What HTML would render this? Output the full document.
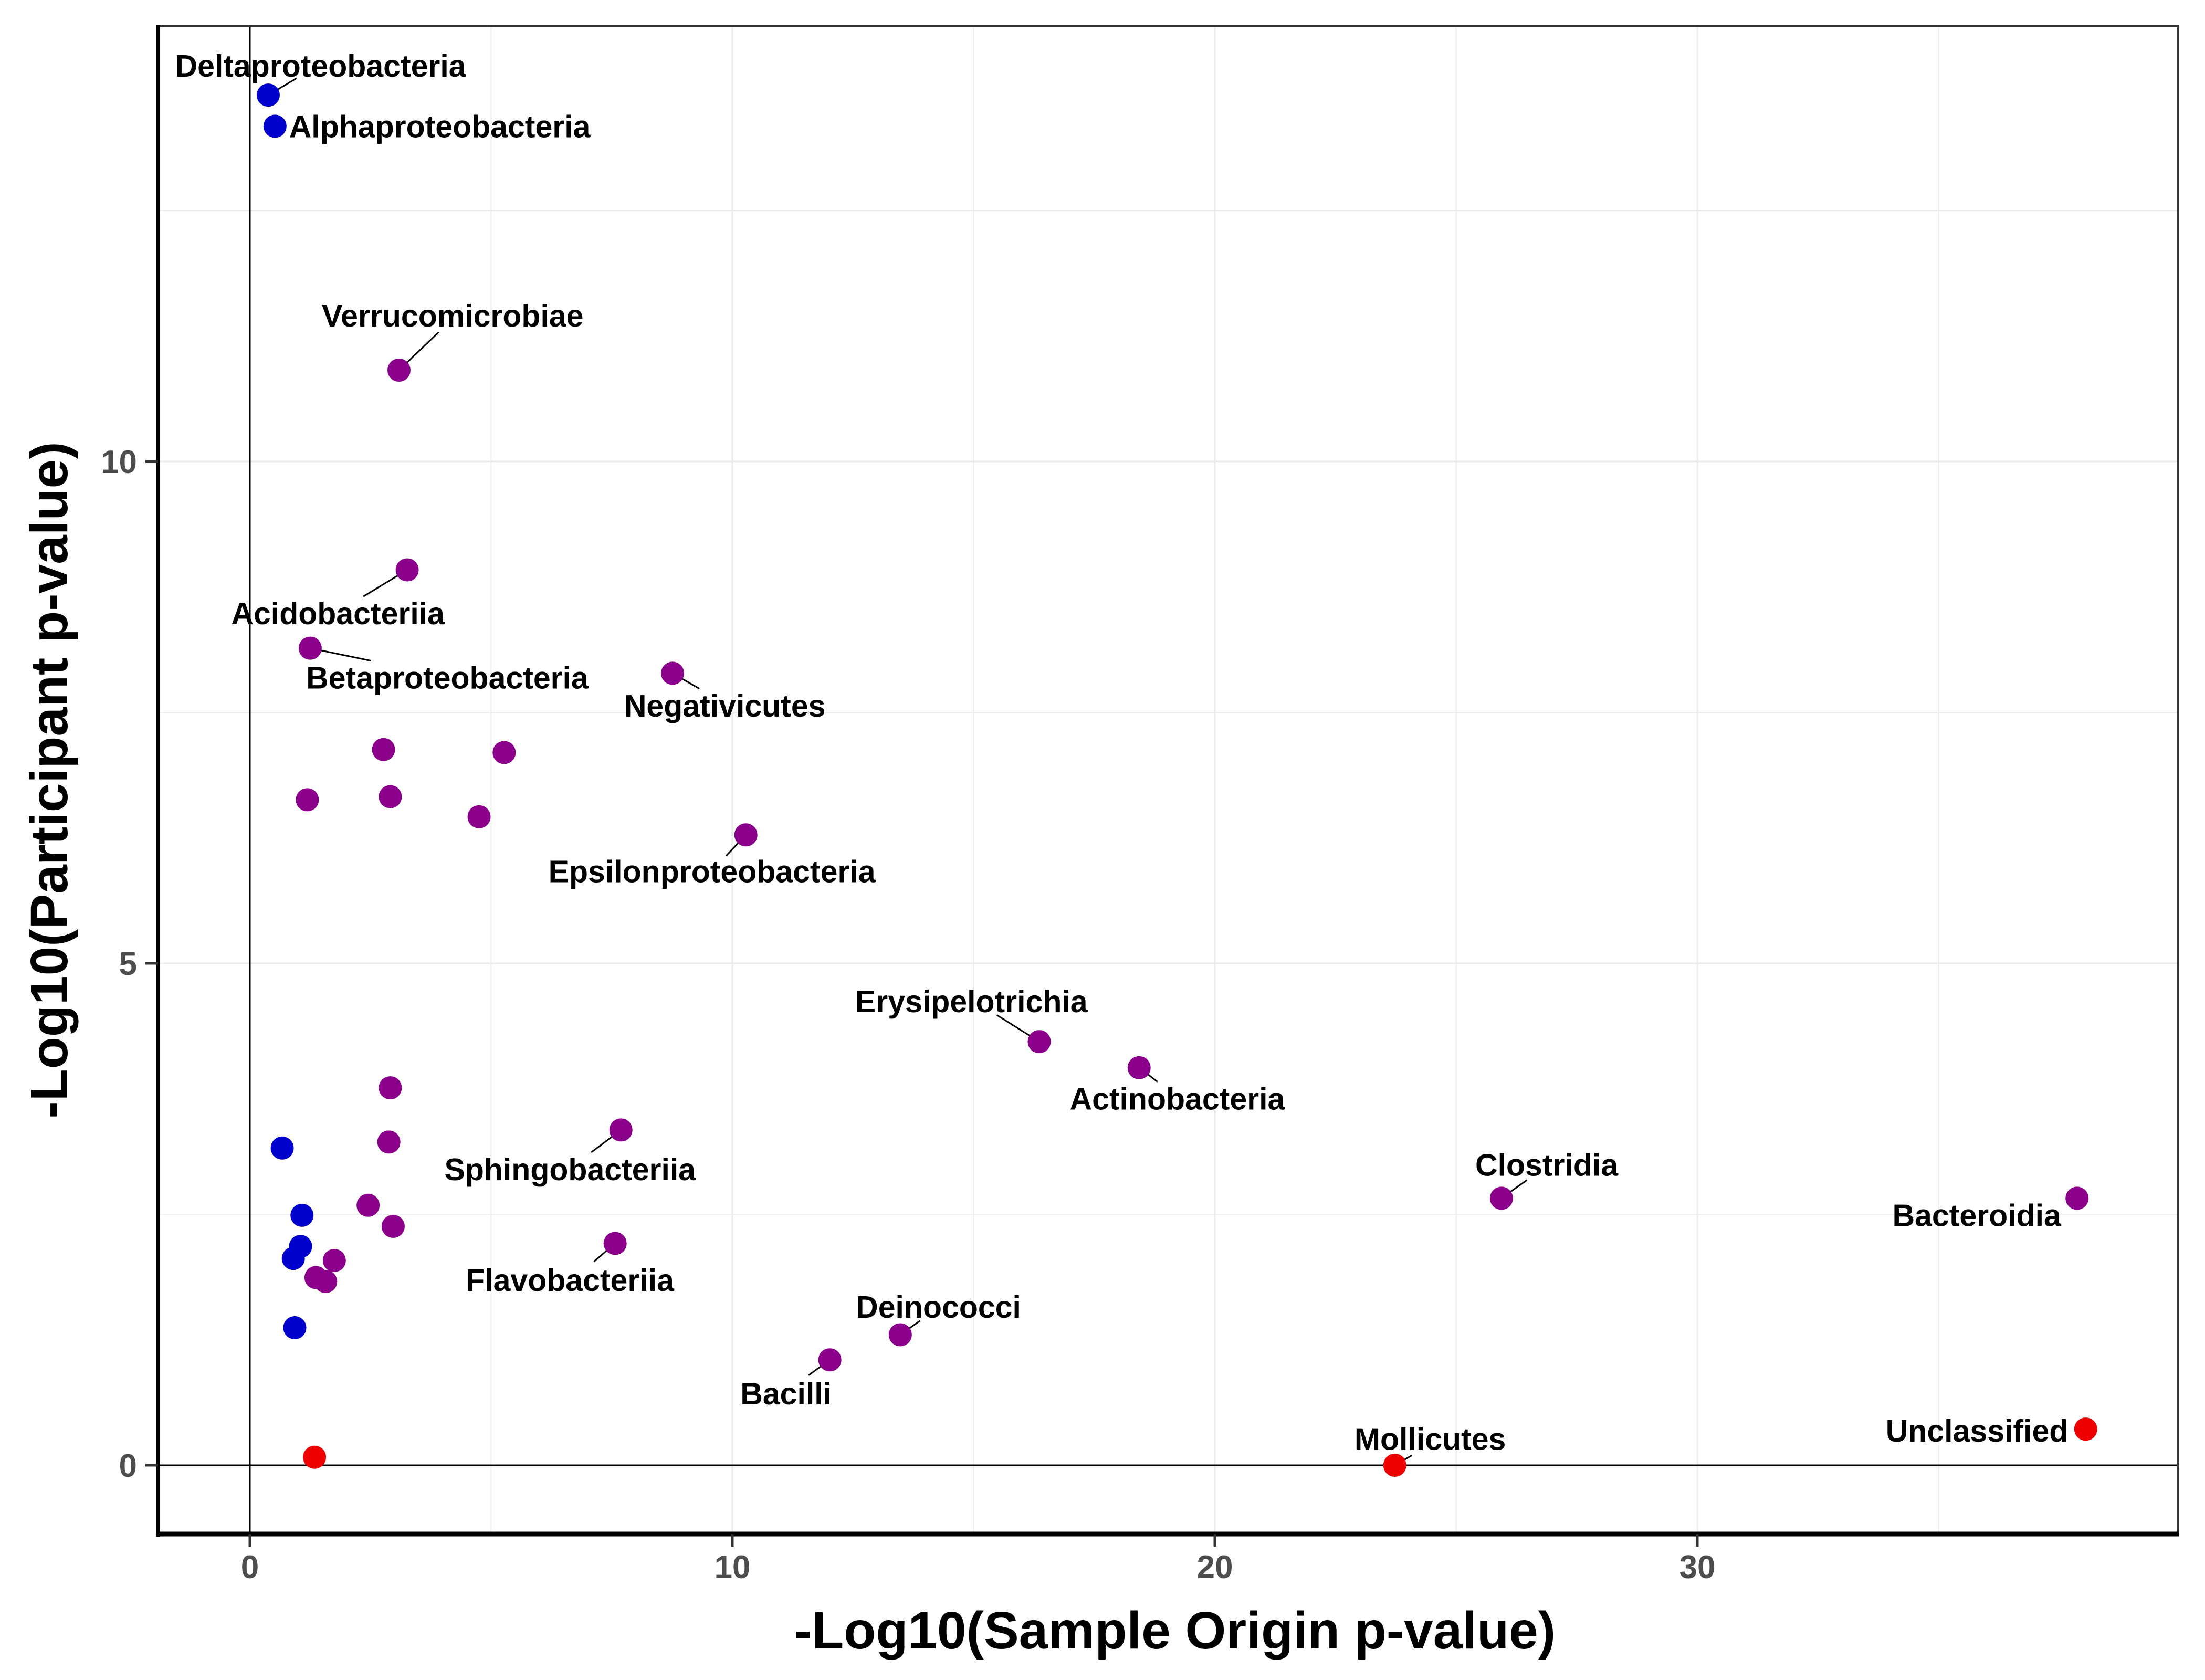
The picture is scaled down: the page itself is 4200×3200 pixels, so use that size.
<!DOCTYPE html>
<html><head><meta charset="utf-8"><style>
html,body{margin:0;padding:0;background:#fff}
svg{display:block}
text{font-family:"Liberation Sans",Arial,sans-serif;font-weight:bold}
</style></head><body>
<svg id="chart" width="4200" height="3200" viewBox="0 0 4200 3200" xmlns="http://www.w3.org/2000/svg">
<g id="grid"></g>
<g id="zero"></g>
<g id="segs"></g>
<g id="pts"></g>
<g id="labs"></g>
<g id="axes"></g>
<text x="2238" y="3140" font-size="100" text-anchor="middle" fill="#000">-Log10(Sample Origin p-value)</text>
<text x="0" y="0" font-size="100" text-anchor="middle" fill="#000" transform="translate(128,1486) rotate(-90)">-Log10(Participant p-value)</text>
</svg>
<script>
const names = ["Deltaproteobacteria","Alphaproteobacteria","Verrucomicrobiae","Acidobacteriia","Betaproteobacteria","Negativicutes","","","","","","Epsilonproteobacteria","Erysipelotrichia","Actinobacteria","","Sphingobacteriia","","","Clostridia","Bacteroidia","","","","Flavobacteriia","","","","","","","Deinococci","Bacilli","","Mollicutes","Unclassified"];
const xVals = [0.38,0.52,3.09,3.26,1.25,8.76,2.77,5.27,1.19,2.91,4.75,10.28,16.36,18.43,2.91,7.69,2.88,0.67,25.94,37.87,1.08,2.45,2.97,7.57,1.05,0.90,1.75,1.37,1.57,0.93,13.48,12.02,1.34,23.73,38.05];
const yVals = [13.65,13.34,10.91,8.92,8.14,7.89,7.13,7.10,6.63,6.66,6.46,6.28,4.22,3.96,3.76,3.34,3.22,3.16,2.66,2.66,2.49,2.59,2.38,2.21,2.18,2.06,2.04,1.87,1.83,1.37,1.30,1.05,0.08,0.0,0.36];
const groups = ["b","b","p","p","p","p","p","p","p","p","p","p","p","p","p","p","p","b","p","p","b","p","p","p","b","b","p","p","p","b","p","p","r","r","r"];
const xTicks = [0,10,20,30];
const yTicks = [0,5,10];
const xMinor = [5,15,25,35];
const yMinor = [2.5,7.5,12.5];
const labelOffsets = {
 "Deltaproteobacteria":[37,-21,20,-12,"middle"],
 "Alphaproteobacteria":[10,0,null,null,"start"],
 "Verrucomicrobiae":[38,-39,28,-27,"middle"],
 "Acidobacteriia":[-49,31,-31,19,"middle"],
 "Betaproteobacteria":[97,21,43,9,"middle"],
 "Negativicutes":[37,23,19,11,"middle"],
 "Epsilonproteobacteria":[-24,26,-14,15,"middle"],
 "Erysipelotrichia":[-48,-29,-30,-19,"middle"],
 "Actinobacteria":[27,22,13,10,"middle"],
 "Sphingobacteriia":[-36,28,-21,16,"middle"],
 "Clostridia":[32,-24,18,-13,"middle"],
 "Bacteroidia":[-71,12,null,null,"middle"],
 "Flavobacteriia":[-32,26,-15,13,"middle"],
 "Deinococci":[27,-20,14,-10,"middle"],
 "Bacilli":[-31,24,-15,11,"middle"],
 "Mollicutes":[25,-19,12,-7,"middle"],
 "Unclassified":[-77,1,null,null,"middle"]
};
const SX=2.692, SY=2.667;
const colors={b:"#0000CD",p:"#8B008B",r:"#EE0000"};
const L=301,R=4149,T=50,B=2922;
function xs(v){return 476+v*91.9;}
function ys(v){return 2791-v*191.2;}
const NS="http://www.w3.org/2000/svg";
function mk(tag,parent,attrs){const e=document.createElementNS(NS,tag);for(const k in attrs)e.setAttribute(k,attrs[k]);document.getElementById(parent).appendChild(e);return e;}
xMinor.forEach(v=>{const e=mk("line","grid",{x1:xs(v),x2:xs(v),y1:T,y2:B,stroke:"#ebebeb","stroke-width":2});

});
yMinor.forEach(v=>{const e=mk("line","grid",{x1:L,x2:R,y1:ys(v),y2:ys(v),stroke:"#ebebeb","stroke-width":2});

});
xTicks.forEach(v=>{const e=mk("line","grid",{x1:xs(v),x2:xs(v),y1:T,y2:B,stroke:"#ebebeb","stroke-width":3});

});
yTicks.forEach(v=>{const e=mk("line","grid",{x1:L,x2:R,y1:ys(v),y2:ys(v),stroke:"#ebebeb","stroke-width":3});

});
let z=mk("line","zero",{x1:xs(0),x2:xs(0),y1:T,y2:B,stroke:"#000","stroke-width":3});


z=mk("line","zero",{x1:L,x2:R,y1:ys(0),y2:ys(0),stroke:"#000","stroke-width":3});


xVals.forEach((xv,i)=>{
 const cx=xs(xv),cy=ys(yVals[i]);
 const c=mk("circle","pts",{cx:cx,cy:cy,r:22,fill:colors[groups[i]]});
 
 
 const o=labelOffsets[names[i]];
 if(o){
  if(o[2]!==null){const s=mk("line","segs",{x1:cx,y1:cy,x2:cx+o[2]*SX,y2:cy+o[3]*SY,stroke:"#000","stroke-width":3});
   
   }
  const t=mk("text","labs",{x:cx+o[0]*SX,y:cy+o[1]*SY+21,"font-size":59,"text-anchor":o[4],fill:"#000"});
  t.textContent=names[i];
  
  
 }
});
let a=mk("rect","axes",{x:L,y:T,width:R-L,height:B-T,fill:"none",stroke:"#333","stroke-width":4});


a=mk("line","axes",{x1:L,x2:L,y1:T-2,y2:B+5,stroke:"#000","stroke-width":7});


a=mk("line","axes",{x1:L-3,x2:R+2,y1:B,y2:B,stroke:"#000","stroke-width":9});


xTicks.forEach(v=>{
 const tk=mk("line","axes",{x1:xs(v),x2:xs(v),y1:B,y2:B+24,stroke:"#333","stroke-width":5});
 
 
 const t=mk("text","axes",{x:xs(v),y:B+84,"font-size":62,"text-anchor":"middle",fill:"#4d4d4d"});
 t.textContent=v;
 
 
});
yTicks.forEach(v=>{
 const tk=mk("line","axes",{x1:L-24,x2:L,y1:ys(v),y2:ys(v),stroke:"#333","stroke-width":5});
 
 
 const t=mk("text","axes",{x:L-40,y:ys(v)+22,"font-size":62,"text-anchor":"end",fill:"#4d4d4d"});
 t.textContent=v;
 
 
});
</script>
</body></html>
